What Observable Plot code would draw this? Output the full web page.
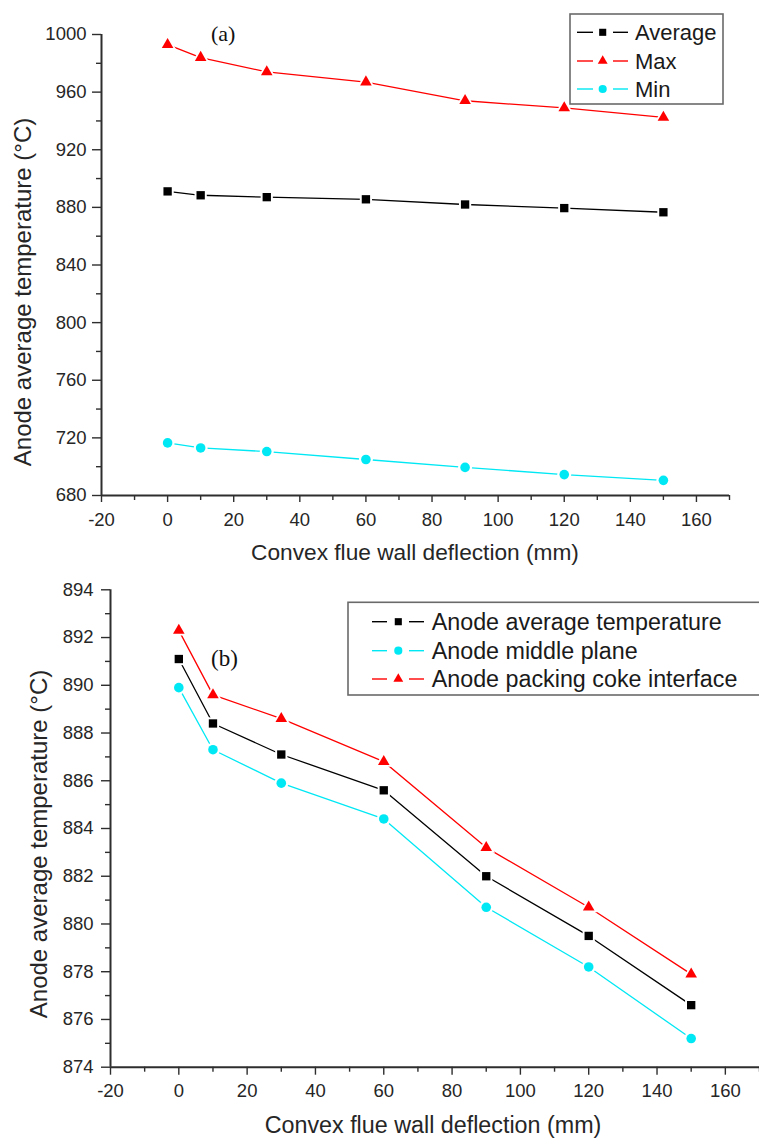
<!DOCTYPE html>
<html>
<head>
<meta charset="utf-8">
<script src="https://cdn.jsdelivr.net/npm/d3@7"></script>
<script src="https://cdn.jsdelivr.net/npm/@observablehq/plot@0.6"></script>
<style>
  html, body { margin: 0; padding: 0; background: #fff; }
  #wrap { position: relative; width: 759px; height: 1140px; overflow: hidden; font-family: "Liberation Sans", Arial, sans-serif; }
  #wrap > svg, #wrap > figure { position: absolute; left: 0; margin: 0; }
</style>
</head>
<body>
<div id="wrap"></div>
<script>
// ---------- data ----------
const deflection = [0, 10, 30, 60, 90, 120, 150];

// panel (a)
const avgA = [891.1, 888.4, 887.1, 885.6, 882.0, 879.5, 876.6];
const maxA = [993.0, 984.0, 974.0, 967.0, 954.0, 949.0, 942.5];
const minA = [716.5, 713.0, 710.5, 705.0, 699.5, 694.5, 690.5];

// panel (b)
const avgB = [891.1, 888.4, 887.1, 885.6, 882.0, 879.5, 876.6];
const middleB = [889.9, 887.3, 885.9, 884.4, 880.7, 878.2, 875.2];
const packingB = [892.3, 889.6, 888.6, 886.8, 883.2, 880.7, 877.9];

const namesA = ["Average", "Max", "Min"];
const namesB = ["Anode average temperature", "Anode middle plane", "Anode packing coke interface"];

const xTicks = [-20, 0, 20, 40, 60, 80, 100, 120, 140, 160];
const xMinor = [-10, 10, 30, 50, 70, 90, 110, 130, 150, 170];
const yTicksA = [680, 720, 760, 800, 840, 880, 920, 960, 1000];
const yMinorA = [700, 740, 780, 820, 860, 900, 940, 980];
const yTicksB = [874, 876, 878, 880, 882, 884, 886, 888, 890, 892, 894];
const yMinorB = [875, 877, 879, 881, 883, 885, 887, 889, 891, 893];

const xLabel = "Convex flue wall deflection (mm)";
const yLabel = "Anode average temperature (°C)";

// ---------- styles ----------
const CYAN = "#00e8f4";
const styleA = {
  "Average": {color: "#000", symbol: "square", r: 4.7},
  "Max": {color: "#ff0000", symbol: "triangle", r: 4.3},
  "Min": {color: CYAN, symbol: "circle", r: 4.8}
};
const styleB = {
  "Anode average temperature": {color: "#000", symbol: "square", r: 4.7},
  "Anode middle plane": {color: CYAN, symbol: "circle", r: 4.8},
  "Anode packing coke interface": {color: "#ff0000", symbol: "triangle", r: 4.3}
};

const tableA = [];
[avgA, maxA, minA].forEach((vals, i) => vals.forEach((v, j) => tableA.push({series: namesA[i], x: deflection[j], y: v})));
const tableB = [];
[avgB, middleB, packingB].forEach((vals, i) => vals.forEach((v, j) => tableB.push({series: namesB[i], x: deflection[j], y: v})));

const AX = "#2e2e2e";
const TXT = "#262626";

function seriesMarks(table, names, styles) {
  const marks = [];
  for (const n of names) {
    const d = table.filter(r => r.series === n);
    const s = styles[n];
    marks.push(Plot.line(d, {x: "x", y: "y", stroke: s.color, strokeWidth: 1.3}));
  }
  for (const n of names) {
    const d = table.filter(r => r.series === n);
    const s = styles[n];
    marks.push(Plot.dot(d, {x: "x", y: "y", symbol: s.symbol, r: s.r + 2.2, fill: "white", stroke: "none"}));
    marks.push(Plot.dot(d, {x: "x", y: "y", symbol: s.symbol, r: s.r, fill: s.color, stroke: "none"}));
  }
  return marks;
}

function axisMarks(yMajor, yMinor, yDomainMin, opts) {
  return [
    Plot.axisY({ticks: yMajor, tickSize: opts.yTick, tickPadding: opts.yPad, fontSize: 18.5, fill: TXT, stroke: AX, strokeWidth: 1.4, label: null, tickFormat: d => String(d)}),
    Plot.axisY({ticks: yMinor, tickSize: 5, stroke: AX, strokeWidth: 1.4, label: null, tickFormat: () => ""}),
    Plot.axisX({ticks: xTicks, tickSize: opts.xTick, tickPadding: opts.xPad, fontSize: 18.5, fill: TXT, stroke: AX, strokeWidth: 1.4, label: null, tickFormat: d => String(d)}),
    Plot.axisX({ticks: xMinor, tickSize: 5, stroke: AX, strokeWidth: 1.4, label: null, tickFormat: () => ""}),
    Plot.ruleX([-20], {stroke: AX, strokeWidth: 2}),
    Plot.ruleY([yDomainMin], {stroke: AX, strokeWidth: 2})
  ];
}

const wrap = document.getElementById("wrap");

// Panel (a)
const plotA = Plot.plot({
  width: 759, height: 575,
  marginLeft: 101, marginRight: 30, marginTop: 34, marginBottom: 80,
  style: {fontFamily: "Liberation Sans, Arial, sans-serif", background: "transparent", overflow: "visible"},
  x: {domain: [-20, 170]},
  y: {domain: [680, 1000]},
  marks: [
    ...axisMarks(yTicksA, yMinorA, 680, {yTick: 9, yPad: 6, xTick: 7, xPad: 10}),
    ...seriesMarks(tableA, namesA, styleA)
  ]
});
plotA.style.position = "absolute";
plotA.style.top = "0px";
wrap.appendChild(plotA);

// Panel (b)
const plotB = Plot.plot({
  width: 759, height: 565,
  marginLeft: 110, marginRight: 0, marginTop: 14.3, marginBottom: 73.3,
  style: {fontFamily: "Liberation Sans, Arial, sans-serif", background: "transparent", overflow: "visible"},
  x: {domain: [-20, 170]},
  y: {domain: [874, 894]},
  marks: [
    ...axisMarks(yTicksB, yMinorB, 874, {yTick: 9, yPad: 8, xTick: 8, xPad: 9}),
    ...seriesMarks(tableB, namesB, styleB)
  ]
});
plotB.style.position = "absolute";
plotB.style.top = "575px";
wrap.appendChild(plotB);

// ---------- overlay: axis labels, panel tags, legends ----------
const ov = d3.select(wrap).append("svg")
  .attr("width", 759).attr("height", 1140)
  .style("position", "absolute").style("top", "0px").style("left", "0px")
  .style("pointer-events", "none")
  .style("font-family", "Liberation Sans, Arial, sans-serif");

function axisTitles(cx, baseY, xSize, ycx, ycy, ySize) {
  ov.append("text").attr("x", cx).attr("y", baseY).attr("text-anchor", "middle")
    .attr("font-size", xSize).attr("fill", TXT).text(xLabel);
  ov.append("text").attr("transform", `translate(${ycx},${ycy}) rotate(-90)`)
    .attr("text-anchor", "middle").attr("dominant-baseline", "central")
    .attr("font-size", ySize).attr("fill", TXT).text(yLabel);
}
axisTitles(415, 560, 22.7, 22, 292, 24);
axisTitles(433, 1133, 23.3, 38, 844, 24);

ov.append("text").attr("x", 211).attr("y", 41).attr("font-family", "Liberation Serif, Times New Roman, serif")
  .attr("font-size", 22).attr("fill", "#111").text("(a)");
ov.append("text").attr("x", 211).attr("y", 665.5).attr("font-family", "Liberation Serif, Times New Roman, serif")
  .attr("font-size", 23).attr("fill", "#111").text("(b)");

function symPath(name, r) {
  const t = {square: d3.symbolSquare, triangle: d3.symbolTriangle, circle: d3.symbolCircle}[name];
  return d3.symbol(t, Math.PI * r * r)();
}

function legend(names, styles, box, rows, seg, fontSize) {
  ov.append("rect").attr("x", box[0]).attr("y", box[1]).attr("width", box[2] - box[0]).attr("height", box[3] - box[1])
    .attr("fill", "white").attr("stroke", "#6a6a6a").attr("stroke-width", 1.6);
  names.forEach((n, i) => {
    const s = styles[n];
    const y = rows[i];
    ov.append("line").attr("x1", seg[0]).attr("x2", seg[1]).attr("y1", y).attr("y2", y).attr("stroke", s.color).attr("stroke-width", 1.4);
    ov.append("line").attr("x1", seg[3]).attr("x2", seg[4]).attr("y1", y).attr("y2", y).attr("stroke", s.color).attr("stroke-width", 1.4);
    ov.append("path").attr("d", symPath(s.symbol, s.r * 0.85)).attr("transform", `translate(${seg[2]},${y})`).attr("fill", s.color);
    ov.append("text").attr("x", seg[5]).attr("y", y + 7.8).attr("font-size", fontSize).attr("fill", "#1a1a1a").text(n);
  });
}
legend(namesA, styleA, [570, 14, 723, 104], [32.3, 61, 89], [577, 593, 602.7, 613, 628, 635], 22);
legend(namesB, styleB, [348, 602.3, 775, 695], [621.7, 650.7, 679], [372, 387, 398.3, 409, 424, 431.7], 23.3);
</script>
</body>
</html>
